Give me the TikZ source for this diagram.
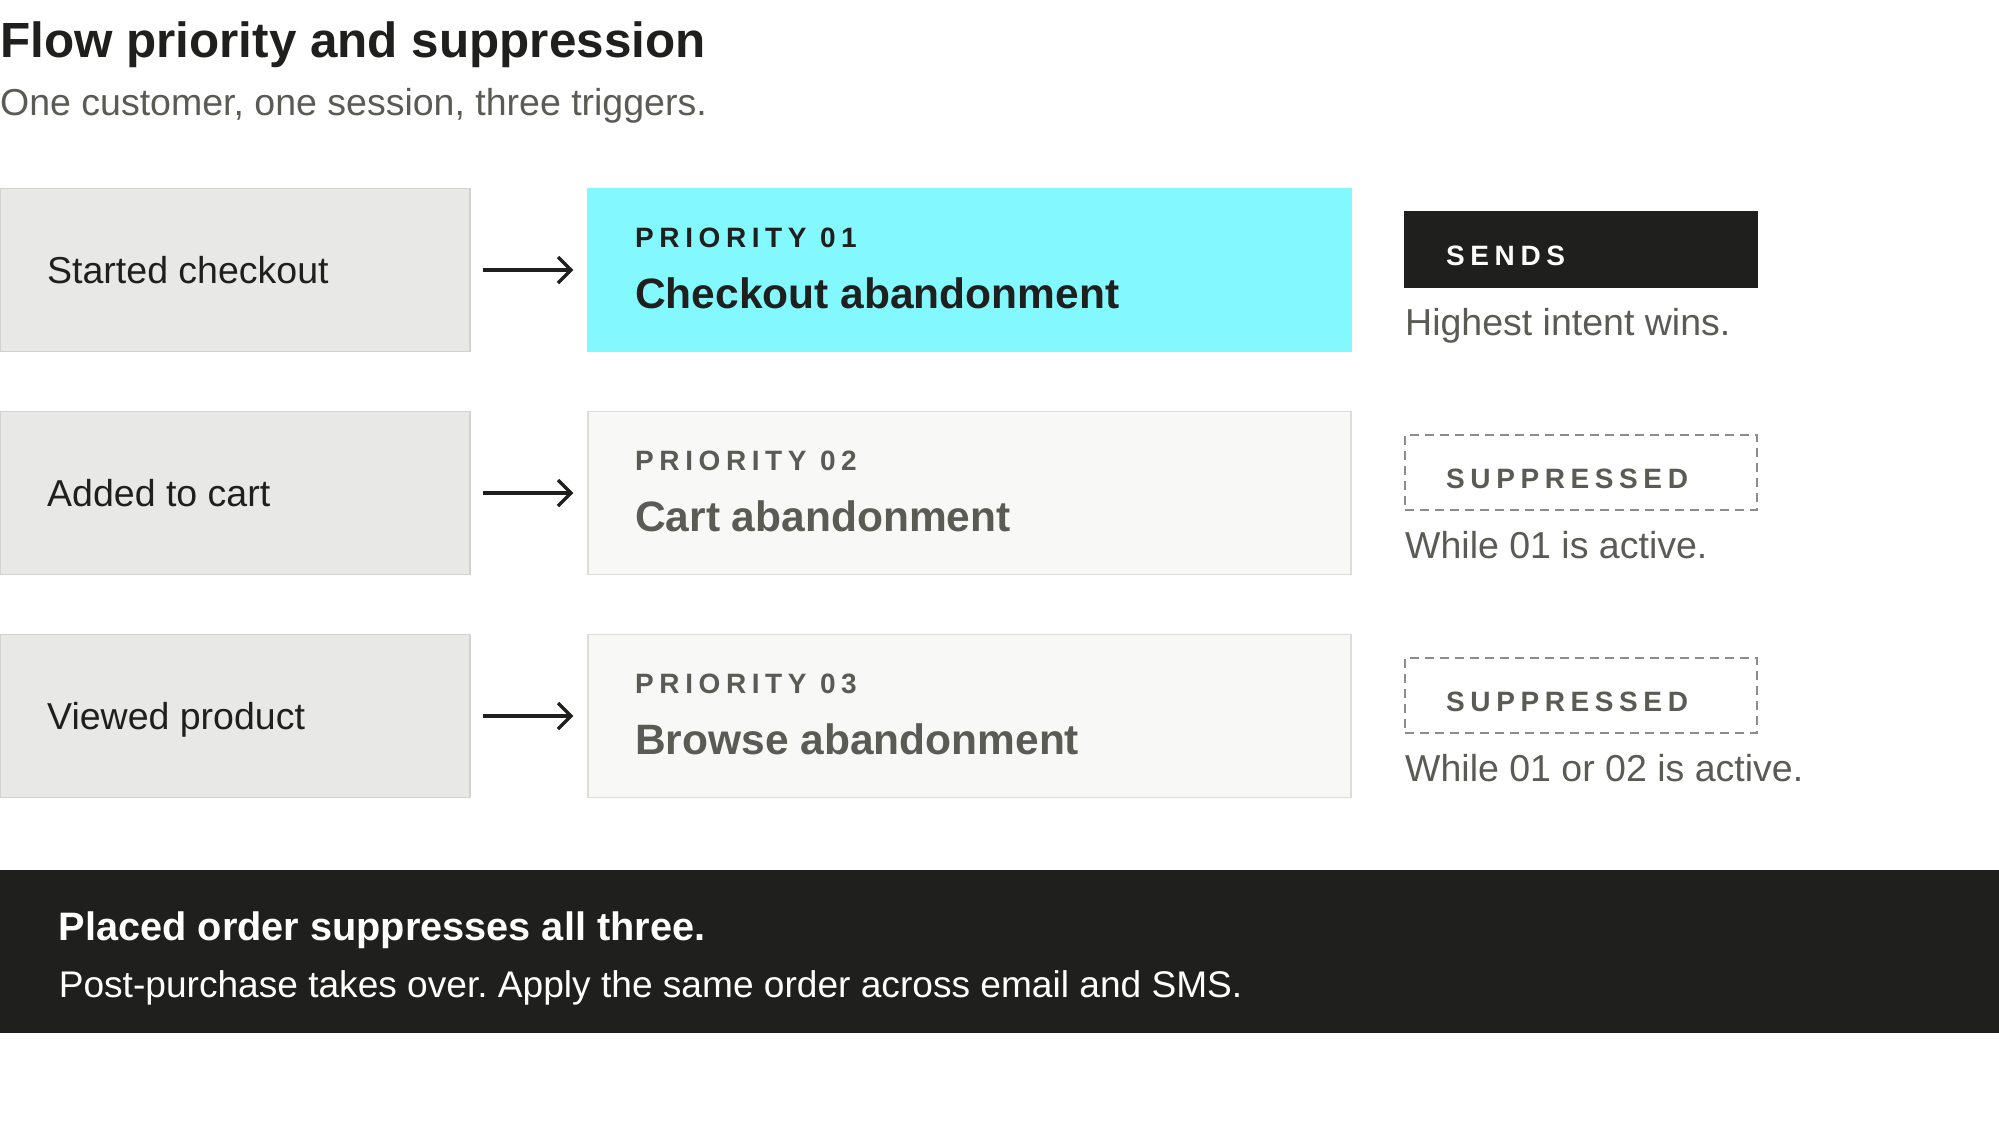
\documentclass[tikz,border=0pt]{standalone}
\usepackage{fontspec}
\setmainfont{Liberation Sans}
\newfontfamily\spacedfont[LetterSpace=20]{Liberation Sans}
\usetikzlibrary{positioning,arrows.meta}

\definecolor{ink}{HTML}{1F1F1D}
\definecolor{mute}{HTML}{5B5B56}
\definecolor{trigfill}{HTML}{E8E8E6}
\definecolor{trigrule}{HTML}{D2D2CF}
\definecolor{paper}{HTML}{F8F8F6}
\definecolor{rule}{HTML}{DCDCD9}
\definecolor{hilite}{HTML}{84F8FF}
\definecolor{dashgray}{HTML}{8C8C88}

\newcommand{\titlefnt}{\bfseries\fontsize{49.4}{56}\selectfont}
\newcommand{\bodyfnt}{\fontsize{37.5}{44}\selectfont}
\newcommand{\subfnt}{\fontsize{37.1}{44}\selectfont}
\newcommand{\flowfnt}{\bfseries\fontsize{42.5}{48}\selectfont}
\newcommand{\tagfnt}{\spacedfont\bfseries\fontsize{28}{34}\selectfont}
\newcommand{\bannerfnt}{\bfseries\fontsize{39.7}{46}\selectfont}

\tikzset{
    txt/.style={anchor=base west, inner sep=0pt},
    trig/.style={fill=trigfill, draw=trigrule, line width=1.2pt,
        minimum width=470pt, minimum height=163pt, inner sep=0pt},
    prio/.style={line width=1.2pt, minimum width=763pt, minimum height=163pt, inner sep=0pt},
    prio on/.style={prio, fill=hilite, draw=hilite},
    prio off/.style={prio, fill=paper, draw=rule},
    ink on/.style={text=ink},
    ink off/.style={text=mute},
    stat/.style={line width=2pt, minimum width=352pt, minimum height=75pt, inner sep=0pt},
    stat on/.style={stat, fill=ink, draw=ink},
    stat off/.style={stat, draw=dashgray, dash pattern=on 9pt off 6pt},
    state on/.style={text=white},
    state off/.style={text=mute},
    flowarrow/.style={-{Straight Barb[length=13pt,width=26pt]}, line width=3.4pt, draw=ink,
        shorten <=12pt, shorten >=14pt}
}

\begin{document}
\frenchspacing
\begin{tikzpicture}[x=1pt, y=-1pt]
    \useasboundingbox[fill=white] (0,0) rectangle (1999,1130);

    \node[txt, font=\titlefnt, text=ink] (title) at (0,57) {Flow priority and suppression};
    \node[txt, font=\bodyfnt, text=mute] (subtitle) at (0,115) {One customer, one session, three triggers.};

    \foreach \i/\trig/\flow/\k/\state/\note in {
        1/Started checkout/Checkout abandonment/on/SENDS/Highest intent wins.,
        2/Added to cart/Cart abandonment/off/SUPPRESSED/While 01 is active.,
        3/Viewed product/Browse abandonment/off/SUPPRESSED/While 01 or 02 is active.}
    {
        \pgfmathsetmacro{\y}{270+223*(\i-1)}
        \node[trig] (trig_\i) at (235,\y) {};
        \node[prio \k] (prio_\i) at (969.5,\y) {};
        \node[stat \k] (stat_\i) at (1581,\y-21) {};
        \draw[flowarrow] (trig_\i) -- (prio_\i);

        \node[txt, font=\bodyfnt, text=ink] (trig_lbl_\i) at (47,\y+13) {\trig};
        \node[txt, font=\tagfnt, ink \k] (tag_\i) at (635,\y-23) {PRIORITY 0\i};
        \node[txt, font=\flowfnt, ink \k] (flow_\i) at (635,\y+38) {\flow};
        \node[txt, font=\tagfnt, state \k] (state_\i) at (1446,\y-5) {\state};
        \node[txt, font=\bodyfnt, text=mute] (note_\i) at (1405,\y+65) {\note};
    }

    % placed order banner
    \node[fill=ink, minimum width=1999pt, minimum height=163pt, inner sep=0pt, anchor=north west]
        (banner) at (0,870) {};
    \node[txt, font=\bannerfnt, text=white] (banner_head) at (58.6,940) {Placed order suppresses all three.};
    \node[txt, font=\subfnt, text=white] (banner_sub) at (58.6,997.7)
        {Post-purchase takes over. Apply the same order across email and SMS.};
\end{tikzpicture}
\end{document}
